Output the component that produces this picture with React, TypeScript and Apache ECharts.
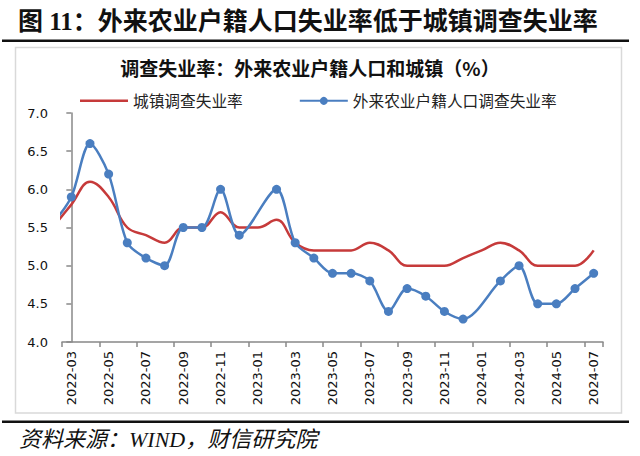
import React, { useEffect, useRef } from "react";
import * as echarts from "echarts";

// Months: the first one (2022-02) lies just left of the visible axis and is only seen as a clipped line segment
const months = [
  "2022-02", "2022-03", "2022-04", "2022-05", "2022-06", "2022-07", "2022-08", "2022-09", "2022-10", "2022-11", "2022-12",
  "2023-01", "2023-02", "2023-03", "2023-04", "2023-05", "2023-06", "2023-07", "2023-08", "2023-09", "2023-10", "2023-11", "2023-12",
  "2024-01", "2024-02", "2024-03", "2024-04", "2024-05", "2024-06", "2024-07",
];
const urbanRate = [
  5.5, 5.8, 6.1, 5.9, 5.5, 5.4, 5.3, 5.5, 5.5, 5.7, 5.5,
  5.5, 5.6, 5.3, 5.2, 5.2, 5.2, 5.3, 5.2, 5.0, 5.0, 5.0, 5.1,
  5.2, 5.3, 5.2, 5.0, 5.0, 5.0, 5.2,
];
const migrantRate: (number | null)[] = [
  5.55, 5.9, 6.6, 6.2, 5.3, 5.1, 5.0, 5.5, 5.5, 6.0, 5.4,
  null, 6.0, 5.3, 5.1, 4.9, 4.9, 4.8, 4.4, 4.7, 4.6, 4.4, 4.3,
  null, 4.8, 5.0, 4.5, 4.5, 4.7, 4.9,
];
const seriesNames = ["城镇调查失业率", "外来农业户籍人口调查失业率"];
const yTicks = { min: 4.0, max: 7.0, interval: 0.5 };

const RED = "#C63A3A";
const BLUE = "#4A7EC0";
const CJK = "'Noto Sans CJK SC', sans-serif";

export default function App() {
  const ref = useRef<HTMLDivElement>(null);
  useEffect(() => {
    document.body.style.margin = "0";
    if (!ref.current) return;
    const chart = echarts.init(ref.current, null, { renderer: "svg" });
    const axisMonths = months.slice(1);
    const toPairs = (arr: (number | null)[]) =>
      arr
        .map((v, i) => ({ v, i: i - 1 }))
        .filter((d) => d.v !== null)
        .map((d) => (d.i < 0 ? { value: [d.i, d.v], symbol: "none" } : { value: [d.i, d.v] }));

    chart.setOption({
      animation: false,
      backgroundColor: "#fff",
      textStyle: { fontFamily: CJK },
      graphic: [
        {
          type: "text",
          left: 18,
          top: 9,
          style: {
            text: "图 11：外来农业户籍人口失业率低于城镇调查失业率",
            font: "bold 25px 'Liberation Serif', 'Noto Sans CJK SC', serif",
            fill: "#111",
          },
        },
        { type: "rect", shape: { x: 2, y: 39.5, width: 627, height: 2.5 }, style: { fill: "#111" } },
        {
          type: "rect",
          shape: { x: 15.5, y: 47.5, width: 606, height: 365.5 },
          style: { fill: "none", stroke: "#D9D9D9", lineWidth: 1.5 },
        },
        { type: "rect", shape: { x: 2, y: 420.5, width: 627, height: 2.5 }, style: { fill: "#111" } },
        {
          type: "text",
          x: 310,
          y: 67,
          style: {
            text: "调查失业率：外来农业户籍人口和城镇（%）",
            font: "bold 19px 'Noto Sans CJK SC', sans-serif",
            fill: "#111",
            textAlign: "center",
            textVerticalAlign: "middle",
          },
        },
        {
          type: "text",
          x: 19,
          y: 439,
          style: {
            text: "资料来源：WIND，财信研究院",
            font: "italic 22px 'Liberation Serif', 'Noto Sans CJK SC', serif",
            fill: "#111",
            textVerticalAlign: "middle",
          },
        },
      ],
      legend: {
        data: [
          { name: seriesNames[0], icon: "path://M0,0 L48,0 L48,2.5 L0,2.5 Z" },
          { name: seriesNames[1] },
        ],
        left: 75,
        top: 88,
        itemWidth: 48,
        itemHeight: 10,
        itemGap: 56,
        textStyle: { fontSize: 15.7, color: "#222", fontFamily: CJK },
      },
      grid: { left: 62, top: 113, width: 541, height: 229, containLabel: false },
      xAxis: [
        {
          type: "category",
          data: axisMonths,
          boundaryGap: true,
          axisLine: { show: true, lineStyle: { color: "#888", width: 1.5 } },
          axisTick: { show: true, interval: 1, length: 5, lineStyle: { color: "#888", width: 1.5 } },
          axisLabel: {
            interval: 1,
            rotate: 90,
            margin: 9,
            fontSize: 13,
            color: "#111",
            fontFamily: "'DejaVu Sans', sans-serif",
          },
          splitLine: { show: false },
        },
        {
          type: "value",
          min: -0.5,
          max: months.length - 1.5,
          show: false,
          splitLine: { show: false },
        },
      ],
      yAxis: {
        type: "value",
        min: yTicks.min,
        max: yTicks.max,
        interval: yTicks.interval,
        axisLine: { show: true, lineStyle: { color: "#888", width: 1.5 } },
        axisTick: { show: true, length: 5, lineStyle: { color: "#888", width: 1.5 } },
        axisLabel: {
          formatter: (v: number) => v.toFixed(1),
          fontSize: 13,
          color: "#111",
          margin: 14,
          fontFamily: "'DejaVu Sans', sans-serif",
        },
        splitLine: { show: false },
      },
      series: [
        {
          name: seriesNames[0],
          type: "line",
          xAxisIndex: 1,
          data: toPairs(urbanRate),
          smooth: 0.4,
          symbol: "none",
          clip: true,
          lineStyle: { color: RED, width: 2.5 },
          itemStyle: { color: RED },
          z: 2,
        },
        {
          name: seriesNames[1],
          type: "line",
          xAxisIndex: 1,
          data: toPairs(migrantRate),
          smooth: 0.3,
          symbol: "circle",
          symbolSize: 9,
          showAllSymbol: true,
          clip: true,
          lineStyle: { color: BLUE, width: 2.5 },
          itemStyle: { color: BLUE },
          z: 3,
        },
      ],
    });
    return () => chart.dispose();
  }, []);
  return <div ref={ref} style={{ width: 640, height: 456 }} />;
}
